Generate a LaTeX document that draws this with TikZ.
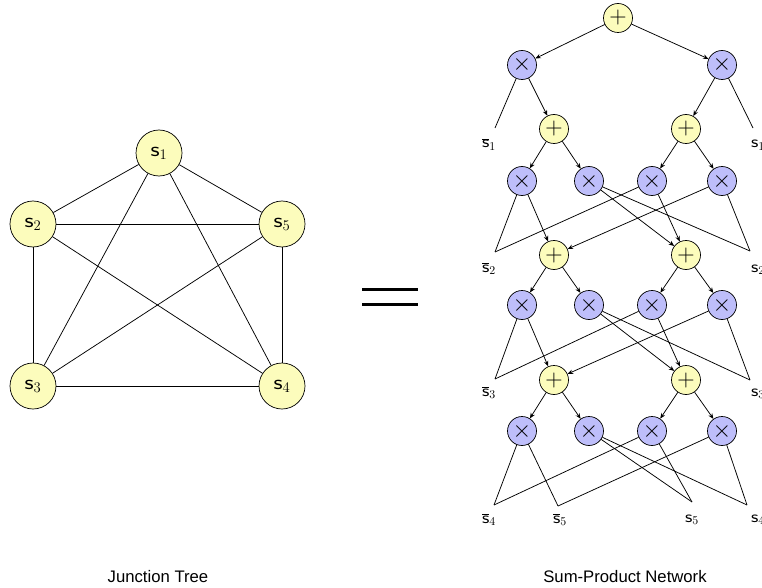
\RequirePackage{fix-cm}
\documentclass[tikz,border=0pt]{standalone}
\usepackage{fontspec}
\usepackage{graphicx}
\newfontfamily\capfont{Liberation Sans}
\usetikzlibrary{arrows.meta}

\definecolor{sumfill}{RGB}{252,252,188}
\definecolor{prodfill}{RGB}{190,190,250}

% a slightly widened sans-serif variable letter
\newcommand{\varS}{\mathord{\scalebox{1.2}[1]{$\mathsf{s}$}}}

\tikzset{
  varnode/.style={circle, draw, line width=0.7pt, fill=sumfill, minimum size=46pt,
    inner sep=0pt, font=\fontsize{21}{21}\selectfont},
  opnode/.style={circle, draw, line width=0.7pt, minimum size=29pt, inner sep=0pt,
    font=\fontsize{24}{24}\selectfont},
  sumnode/.style={opnode, fill=sumfill},
  prodnode/.style={opnode, fill=prodfill},
  leaflabel/.style={inner sep=0pt, anchor=base, font=\fontsize{17}{17}\selectfont},
  edge/.style={line width=0.75pt},
  arc/.style={edge, -{Stealth[length=5.5pt,width=4.5pt]}},
  caption/.style={font=\capfont\fontsize{16.7}{16.7}\selectfont}
}

\begin{document}
\begin{tikzpicture}[x=1pt, y=-1pt]
\useasboundingbox (0,0) rectangle (762,588);

% ---------- junction tree: complete graph on five variables ----------
\node[varnode] (v1) at (159,153) {$\varS_1$};
\node[varnode] (v2) at (33,224)  {$\varS_2$};
\node[varnode] (v5) at (282,224) {$\varS_5$};
\node[varnode] (v3) at (33,386)  {$\varS_3$};
\node[varnode] (v4) at (282,386) {$\varS_4$};
\foreach \a/\b in {v1/v2, v1/v5, v1/v3, v1/v4, v2/v5, v2/v3, v2/v4, v5/v3, v5/v4, v3/v4}
  \draw[edge] (\a) -- (\b);

% ---------- equals sign ----------
\coordinate (eqa) at (362,289); \coordinate (eqb) at (418,289);
\coordinate (eqc) at (362,304); \coordinate (eqd) at (418,304);
\draw[line width=3pt] (eqa) -- (eqb);
\draw[line width=3pt] (eqc) -- (eqd);

% ---------- sum-product network: operator nodes ----------
\node[sumnode]  (p0)  at (618,18)  {$+$};
\node[prodnode] (xl)  at (522,65)  {$\times$};
\node[prodnode] (xr)  at (722,65)  {$\times$};
\node[sumnode]  (pl1) at (554,129) {$+$};
\node[sumnode]  (pr1) at (686,129) {$+$};
\node[sumnode]  (pl2) at (554,255) {$+$};
\node[sumnode]  (pr2) at (686,255) {$+$};
\node[sumnode]  (pl3) at (554,380) {$+$};
\node[sumnode]  (pr3) at (686,380) {$+$};
\foreach \r/\y in {a/181, b/305, c/431} {
  \node[prodnode] (\r1) at (522,\y) {$\times$};
  \node[prodnode] (\r2) at (589,\y) {$\times$};
  \node[prodnode] (\r3) at (652,\y) {$\times$};
  \node[prodnode] (\r4) at (722,\y) {$\times$};
}

% ---------- leaf indicators ----------
\coordinate (n1) at (495,128); \node[leaflabel] (ln1) at (489,148) {$\overline{\varS}_1$};
\coordinate (t1) at (753,128); \node[leaflabel] (lt1) at (758,148) {$\varS_1$};
\coordinate (n2) at (495,252); \node[leaflabel] (ln2) at (489,272) {$\overline{\varS}_2$};
\coordinate (t2) at (750,251); \node[leaflabel] (lt2) at (758,272) {$\varS_2$};
\coordinate (n3) at (495,379); \node[leaflabel] (ln3) at (489,396) {$\overline{\varS}_3$};
\coordinate (t3) at (750,380); \node[leaflabel] (lt3) at (758,396) {$\varS_3$};
\coordinate (n4) at (494,505); \node[leaflabel] (ln4) at (489,523) {$\overline{\varS}_4$};
\coordinate (n5) at (558,506); \node[leaflabel] (ln5) at (560,523) {$\overline{\varS}_5$};
\coordinate (t5) at (692,502); \node[leaflabel] (lt5) at (692,522) {$\varS_5$};
\coordinate (t4) at (747,505); \node[leaflabel] (lt4) at (758,522) {$\varS_4$};

% ---------- sum-product network: edges ----------
\draw[arc] (p0) -- (xl);
\draw[arc] (p0) -- (xr);
\draw[edge] (xl) -- (n1);
\draw[arc] (xl) -- (pl1);
\draw[arc] (xr) -- (pr1);
\draw[edge] (xr) -- (t1);

\draw[arc] (pl1) -- (a1);
\draw[arc] (pl1) -- (a2);
\draw[arc] (pr1) -- (a3);
\draw[arc] (pr1) -- (a4);
\draw[edge] (a1) -- (n2);
\draw[arc] (a1) -- (pl2);
\draw[arc] (a2) -- (pr2);
\draw[edge] (a2) -- (t2);
\draw[edge] (a3) -- (n2);
\draw[arc] (a3) -- (pr2);
\draw[arc] (a4) -- (pl2);
\draw[edge] (a4) -- (t2);

\draw[arc] (pl2) -- (b1);
\draw[arc] (pl2) -- (b2);
\draw[arc] (pr2) -- (b3);
\draw[arc] (pr2) -- (b4);
\draw[edge] (b1) -- (n3);
\draw[arc] (b1) -- (pl3);
\draw[arc] (b2) -- (pr3);
\draw[edge] (b2) -- (t3);
\draw[edge] (b3) -- (n3);
\draw[arc] (b3) -- (pr3);
\draw[arc] (b4) -- (pl3);
\draw[edge] (b4) -- (t3);

\draw[arc] (pl3) -- (c1);
\draw[arc] (pl3) -- (c2);
\draw[arc] (pr3) -- (c3);
\draw[arc] (pr3) -- (c4);
\draw[edge] (c1) -- (n4);
\draw[edge] (c1) -- (n5);
\draw[edge] (c2) -- (t5);
\draw[edge] (c2) -- (t4);
\draw[edge] (c3) -- (n4);
\draw[edge] (c3) -- (t5);
\draw[edge] (c4) -- (n5);
\draw[edge] (c4) -- (t4);

% ---------- captions ----------
\node[caption] (capl) at (158,577) {Junction Tree};
\node[caption] (capr) at (625,577) {Sum-Product Network};
\end{tikzpicture}
\end{document}
